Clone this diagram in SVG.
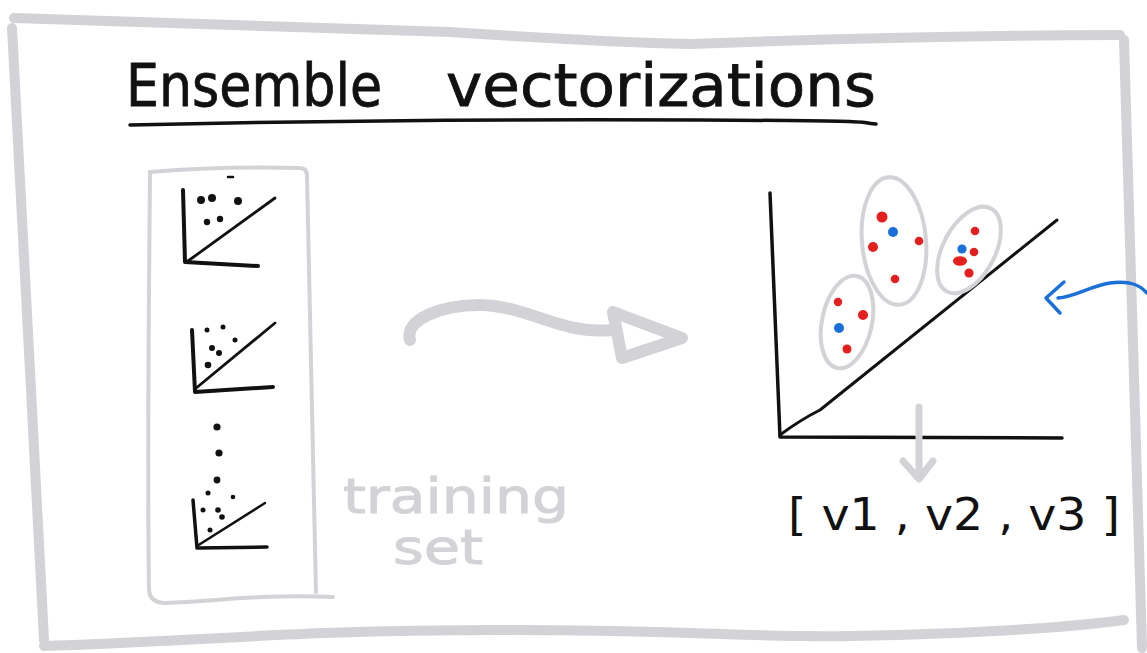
<svg xmlns="http://www.w3.org/2000/svg" width="1147" height="653" viewBox="0 0 1147 653">
<style>
.gray{fill:none;stroke:#d3d2d6;stroke-linecap:round;stroke-linejoin:round}
.ink{fill:none;stroke:#111;stroke-linecap:round;stroke-linejoin:round}
.dot{fill:#111}
.red{fill:#e3201e}
.blue{fill:#1a6fd8}
.hand{font-family:"DejaVu Sans","Liberation Sans",sans-serif}
</style>
<rect width="1147" height="653" fill="#fff"/>
<g id="frame" class="gray" stroke-width="10">
<path d="M14,18 C150,22 300,26 450,32 Q600,42 690,44 Q900,36 1120,35"/>
<path d="M1124,40 C1128,200 1136,420 1142,648"/>
<path d="M12,28 C20,200 35,450 44,640"/>
<path d="M44,646 C200,641 300,630 500,630 S750,638 850,636 S1050,630 1124,620"/>
</g>
<g id="title">
<text class="hand" font-size="58" fill="#111" stroke="#111" stroke-width="0.8"><tspan x="126" y="106" textLength="256" lengthAdjust="spacingAndGlyphs">Ensemble</tspan><tspan x="446" y="106" textLength="430" lengthAdjust="spacingAndGlyphs">vectorizations</tspan></text>
<path class="ink" stroke-width="3.5" d="M130,125 C300,121 500,119 700,120 S850,122 876,124"/>
</g>
<g id="training-set">
<path class="gray" stroke-width="4" d="M150,172 Q225,166 300,168 Q307,168 307,176 C309,300 313,450 316,592"/>
<path class="gray" stroke-width="4" d="M150,172 C149,300 147,450 149,590 Q150,603 166,603 C220,601 260,594 333,597"/>
<g id="plot-1">
<path class="ink" stroke-width="4" d="M183,190 L185,262 L258,266"/>
<path class="ink" stroke-width="2.8" d="M188,261 L275,198"/>
<circle class="dot" cx="201" cy="200" r="4"/><circle class="dot" cx="212" cy="198" r="4"/><circle class="dot" cx="238" cy="201" r="4"/><circle class="dot" cx="207" cy="222" r="3.2"/><circle class="dot" cx="220" cy="219" r="3.2"/><path class="ink" stroke-width="2.5" d="M228,177 L233,177"/>
</g>
<g id="plot-2">
<path class="ink" stroke-width="4" d="M192,330 L195,392 L273,387"/>
<path class="ink" stroke-width="2.8" d="M195,389 L275,323"/>
<circle class="dot" cx="207" cy="330" r="2.5"/><circle class="dot" cx="223" cy="327" r="2.5"/><circle class="dot" cx="235" cy="340" r="2.5"/><circle class="dot" cx="212" cy="348" r="3"/><circle class="dot" cx="219" cy="353" r="3"/><circle class="dot" cx="208" cy="365" r="3.3"/>
</g>
<g id="ellipsis">
<circle class="dot" cx="217" cy="427" r="3.6"/><circle class="dot" cx="219" cy="453" r="3.6"/><circle class="dot" cx="217" cy="480" r="3.4"/>
</g>
<g id="plot-3">
<path class="ink" stroke-width="3.5" d="M193,500 L197,548 L267,547"/>
<path class="ink" stroke-width="2.5" d="M197,546 L265,503"/>
<circle class="dot" cx="208" cy="493" r="2.5"/><circle class="dot" cx="233" cy="497" r="2.3"/><circle class="dot" cx="203" cy="510" r="2.5"/><circle class="dot" cx="218" cy="510" r="2.8"/><circle class="dot" cx="222" cy="517" r="2.8"/><circle class="dot" cx="210" cy="530" r="2.5"/>
</g>
<text class="hand" font-size="48" fill="#d3d2d6" stroke="#d3d2d6" stroke-width="1"><tspan x="343" y="513" textLength="226" lengthAdjust="spacingAndGlyphs">training</tspan><tspan x="393" y="564" textLength="90" lengthAdjust="spacingAndGlyphs">set</tspan></text>
</g>
<g id="scatter-plot">
<path class="ink" stroke-width="3.5" d="M770,193 L780,437 L1062,438"/>
<path class="ink" stroke-width="3" d="M780,435 Q800,420 820,410 L1057,220"/>
<ellipse class="gray" stroke-width="4" cx="847" cy="322" rx="25" ry="47" transform="rotate(12 847 322)"/>
<ellipse class="gray" stroke-width="4" cx="894" cy="241" rx="32" ry="64" transform="rotate(-5 894 241)"/>
<ellipse class="gray" stroke-width="4" cx="969" cy="250" rx="26" ry="47" transform="rotate(28 969 250)"/>
<circle class="red" cx="838" cy="302" r="4.2"/><circle class="red" cx="863" cy="315" r="5"/><circle class="blue" cx="839" cy="328" r="5"/><circle class="red" cx="847" cy="349" r="4.5"/>
<circle class="red" cx="882" cy="217" r="5.5"/><circle class="blue" cx="893" cy="232" r="5"/><circle class="red" cx="919" cy="241" r="4.3"/><circle class="red" cx="873" cy="247" r="5"/><circle class="red" cx="895" cy="279" r="4.3"/>
<circle class="red" cx="975" cy="231" r="4.3"/><circle class="blue" cx="962" cy="249" r="4.6"/><circle class="red" cx="974" cy="252" r="4.3"/><ellipse class="red" cx="960" cy="261" rx="7" ry="4.8"/><circle class="red" cx="969" cy="273" r="4.6"/>
</g>
<g id="vector">
<text class="hand" font-size="44" fill="#111" x="788" y="530" textLength="332" lengthAdjust="spacingAndGlyphs">[ v1 , v2 , v3 ]</text>
</g>
<g id="connectors">
<g id="train-arrow" class="gray" stroke-width="12">
<path d="M410,340 C404,320 440,305 480,305 C530,306 560,335 613,330"/>
<path d="M613,312 L682,338 L622,358 Z"/>
</g>
<g id="down-arrow" class="gray" stroke-width="7">
<path d="M919,407 L919,478"/>
<path d="M903,461 L919,479 L933,461"/>
</g>
<g id="blue-arrow" fill="none" stroke="#1a6fd8" stroke-width="3.5" stroke-linecap="round" stroke-linejoin="round">
<path d="M1147,293 C1140,285 1130,280 1110,283 C1090,286 1075,297 1058,298"/>
<path d="M1064,282 L1046,298 L1060,313"/>
</g>
</g>
</svg>
